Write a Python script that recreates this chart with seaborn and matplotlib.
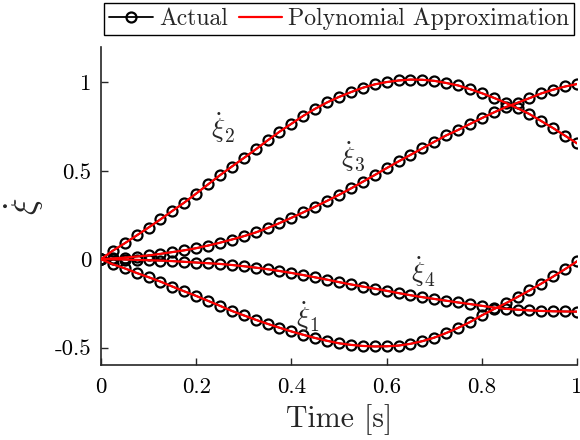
import numpy as np
import pandas as pd
import matplotlib
matplotlib.use("Agg")
import matplotlib.pyplot as plt
import seaborn as sns
from matplotlib.lines import Line2D

# ---- data ----
time_s = [0.000, 0.025, 0.050, 0.075, 0.100, 0.125, 0.150, 0.175, 0.200, 0.225,
          0.250, 0.275, 0.300, 0.325, 0.350, 0.375, 0.400, 0.425, 0.450, 0.475,
          0.500, 0.525, 0.550, 0.575, 0.600, 0.625, 0.650, 0.675, 0.700, 0.725,
          0.750, 0.775, 0.800, 0.825, 0.850, 0.875, 0.900, 0.925, 0.950, 0.975,
          1.000]

xi1 = [0.000, -0.029, -0.052, -0.078, -0.102, -0.127, -0.155, -0.182, -0.208, -0.236,
       -0.264, -0.293, -0.318, -0.343, -0.366, -0.388, -0.409, -0.428, -0.446, -0.462,
       -0.476, -0.485, -0.491, -0.494, -0.493, -0.489, -0.479, -0.464, -0.444, -0.418,
       -0.389, -0.356, -0.318, -0.283, -0.250, -0.214, -0.177, -0.138, -0.098, -0.056,
       -0.012]

xi2 = [0.000, 0.048, 0.090, 0.134, 0.179, 0.225, 0.273, 0.320, 0.371, 0.423,
       0.475, 0.524, 0.572, 0.621, 0.672, 0.721, 0.766, 0.811, 0.851, 0.887,
       0.918, 0.945, 0.970, 0.989, 1.002, 1.011, 1.016, 1.015, 1.009, 0.997,
       0.983, 0.962, 0.939, 0.913, 0.885, 0.854, 0.821, 0.781, 0.741, 0.698,
       0.655]

xi3 = [0.000, 0.004, 0.009, 0.015, 0.021, 0.030, 0.040, 0.050, 0.062, 0.077,
       0.093, 0.111, 0.130, 0.151, 0.176, 0.204, 0.234, 0.265, 0.297, 0.330,
       0.364, 0.400, 0.438, 0.476, 0.515, 0.553, 0.590, 0.627, 0.664, 0.700,
       0.731, 0.765, 0.798, 0.830, 0.860, 0.885, 0.911, 0.938, 0.959, 0.977,
       0.991]

xi4 = [0.000, -0.001, -0.002, -0.004, -0.006, -0.008, -0.011, -0.015, -0.019, -0.023,
       -0.027, -0.033, -0.040, -0.048, -0.057, -0.067, -0.078, -0.090, -0.103, -0.116,
       -0.130, -0.143, -0.155, -0.167, -0.179, -0.192, -0.204, -0.215, -0.225, -0.235,
       -0.245, -0.254, -0.264, -0.274, -0.281, -0.286, -0.290, -0.293, -0.295, -0.296,
       -0.297]

series_names = ["xi1", "xi2", "xi3", "xi4"]
series_labels = [r"$\dot{\xi}_1$", r"$\dot{\xi}_2$", r"$\dot{\xi}_3$", r"$\dot{\xi}_4$"]
label_pos = [(0.435, -0.325), (0.256, 0.745), (0.529, 0.580), (0.676, -0.070)]

x_ticks = [0, 0.2, 0.4, 0.6, 0.8, 1]
x_tick_labels = ["0", "0.2", "0.4", "0.6", "0.8", "1"]
y_ticks = [-0.5, 0, 0.5, 1]
y_tick_labels = ["-0.5", "0", "0.5", "1"]

df = pd.DataFrame({"t": time_s, "xi1": xi1, "xi2": xi2, "xi3": xi3, "xi4": xi4})

# ---- style ----
sns.set_style("ticks")
plt.rcParams["font.family"] = ["cmr10", "DejaVu Serif"]
plt.rcParams["mathtext.fontset"] = "cm"
plt.rcParams["axes.unicode_minus"] = False
plt.rcParams["axes.formatter.use_mathtext"] = True

axcol = "#262626"
fig = plt.figure(figsize=(5.8, 4.4), dpi=100)
ax = fig.add_axes([0.174, 0.170, 0.821, 0.723])

for name in series_names:
    sns.lineplot(data=df, x="t", y=name, ax=ax, color="black", lw=1.3,
                 marker="o", markersize=7.2, mfc="none", mec="black", mew=1.6,
                 errorbar=None, sort=False, zorder=2)
for name in series_names:
    sns.lineplot(data=df, x="t", y=name, ax=ax, color="#ff0000", lw=1.6,
                 errorbar=None, sort=False, zorder=3)

for lab, (lx, ly) in zip(series_labels, label_pos):
    ax.text(lx, ly, lab, fontsize=20, ha="center", va="center")

ax.set_xlim(0, 1)
ax.set_ylim(-0.6, 1.2)
ax.set_xticks(x_ticks)
ax.set_xticklabels(x_tick_labels)
ax.set_yticks(y_ticks)
ax.set_yticklabels(y_tick_labels)
ax.tick_params(direction="in", length=5, width=1.0, colors=axcol,
               labelcolor="black", labelsize=16.5)
ax.tick_params(axis="x", pad=9)
ax.tick_params(axis="y", pad=7)
for s in ["top", "right"]:
    ax.spines[s].set_visible(False)
for s in ["left", "bottom"]:
    ax.spines[s].set_color(axcol)
    ax.spines[s].set_linewidth(1.2)

ax.set_xlabel("Time [s]", fontsize=21.5, labelpad=5)
ax.set_ylabel(r"$\dot{\xi}$", fontsize=25, labelpad=6)

handles = [
    Line2D([0, 0.5, 1], [0, 0, 0], color="black", lw=1.3, marker="o", markersize=7.2,
           mfc="none", mec="black", mew=1.6, markevery=[1]),
    Line2D([], [], color="#ff0000", lw=1.6),
]
leg = fig.legend(handles, ["Actual", "Polynomial Approximation"],
                 loc="center", bbox_to_anchor=(0.585, 0.957), ncol=2,
                 fontsize=17.1, frameon=True, fancybox=False,
                 handlelength=1.85, handletextpad=0.25, columnspacing=0.45,
                 borderpad=0.2, borderaxespad=0.0)
leg.get_frame().set_edgecolor("black")
leg.get_frame().set_linewidth(1.0)
leg.get_frame().set_alpha(1)

fig.savefig("out.png", dpi=100)
